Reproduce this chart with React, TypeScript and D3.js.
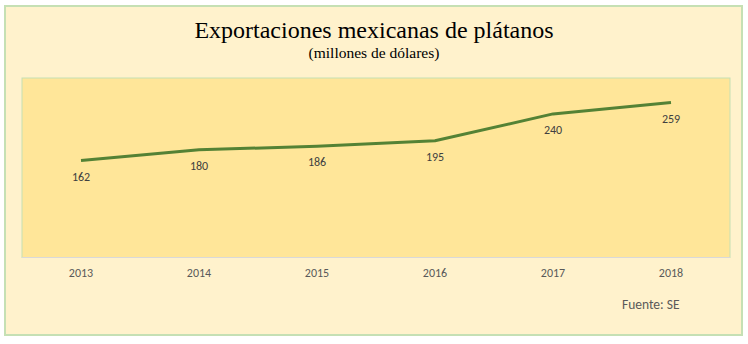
import React from "react";
import * as d3 from "d3";

const years = ["2013", "2014", "2015", "2016", "2017", "2018"];
const values = [162, 180, 186, 195, 240, 259];
const yDomain = [0, 300];

export default function App() {
  const W = 748, H = 344;
  const plot = { left: 22, right: 730, top: 78, bottom: 257.5 };
  const x = d3.scaleBand<string>().domain(years).range([plot.left, plot.right]);
  const y = d3.scaleLinear().domain(yDomain).range([plot.bottom, plot.top]);
  const line = d3
    .line<number>()
    .x((_, i) => (x(years[i]) as number) + x.bandwidth() / 2)
    .y((d) => y(d));
  const sans = "Calibri, Carlito, 'Liberation Sans', 'DejaVu Sans', sans-serif";
  return (
    <svg
      width={W}
      height={H}
      style={{ position: "absolute", left: 0, top: 0 }}
    >
      <rect x={0} y={0} width={W} height={H} fill="#ffffff" />
      <rect x={5} y={6} width={737} height={329} fill="#FFF2CC" stroke="#C5E0B4" strokeWidth={2} />
      <rect
        x={plot.left}
        y={plot.top}
        width={plot.right - plot.left}
        height={plot.bottom - plot.top}
        fill="#FFE699"
        stroke="#C5E0B4"
        strokeWidth={1}
      />
      <line x1={plot.left} x2={plot.right} y1={plot.bottom} y2={plot.bottom} stroke="#D9D9D9" strokeWidth={1} />
      <text
        x={374}
        y={38}
        textAnchor="middle"
        fontFamily="'Liberation Serif', 'Times New Roman', serif"
        fontSize={24}
        fill="#000"
      >
        Exportaciones mexicanas de plátanos
      </text>
      <text
        x={374}
        y={57.5}
        textAnchor="middle"
        fontFamily="'Liberation Serif', 'Times New Roman', serif"
        fontSize={15.5}
        fill="#000"
      >
        (millones de dólares)
      </text>
      <path d={line(values) || ""} fill="none" stroke="#548235" strokeWidth={3} strokeLinejoin="round" />
      {values.map((v, i) => (
        <text
          key={"l" + i}
          x={(x(years[i]) as number) + x.bandwidth() / 2}
          y={y(v) + 20}
          textAnchor="middle"
          fontFamily={sans}
          fontSize={12}
          fill="#404040"
        >
          {v}
        </text>
      ))}
      {years.map((yr) => (
        <text
          key={yr}
          x={(x(yr) as number) + x.bandwidth() / 2}
          y={277}
          textAnchor="middle"
          fontFamily={sans}
          fontSize={12}
          fill="#595959"
        >
          {yr}
        </text>
      ))}
      <text x={622} y={309} fontFamily={sans} fontSize={13.5} fill="#595959">
        Fuente: SE
      </text>
    </svg>
  );
}
